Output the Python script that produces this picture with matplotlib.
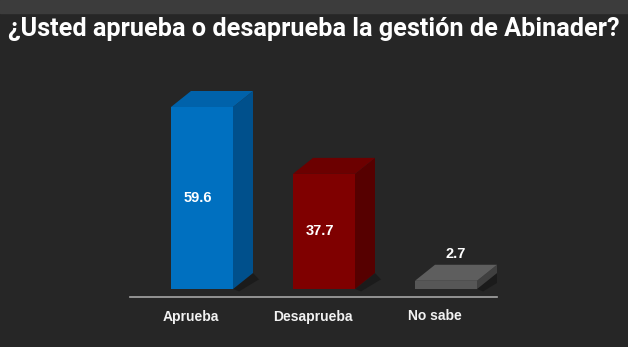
import numpy as np
import matplotlib.pyplot as plt
from matplotlib.patches import Polygon, Rectangle

cats = ["Aprueba", "Desaprueba", "No sabe"]
vals = [59.6, 37.7, 2.7]
front = ["#0070c0", "#7f0000", "#575757"]
top = ["#0062aa", "#6c0000", "#5e5e5e"]
side = ["#00508c", "#560000", "#404040"]

W, H = 628, 347
fig = plt.figure(figsize=(W / 100, H / 100), dpi=100)
fig.patch.set_facecolor("#262626")
# lighter strip on top
fig.add_artist(Rectangle((0, 1 - 13 / H), 1, 13 / H, transform=fig.transFigure,
                         color="#3c3c3c", zorder=0))

fig.text(0.5, 1 - 29 / H, "¿Usted aprueba o desaprueba la gestión de Abinader?",
         ha="center", va="center", color="white", fontsize=18.2, fontweight="bold",
         family="Roboto")

# axes placed in pixels: x 130..497, y 60..297
l, r, t, b = 130, 497, 60, 297
ax = fig.add_axes([l / W, 1 - b / H, (r - l) / W, (b - t) / H])
ax.set_facecolor("none")
px_x = 122.0           # pixels per category
px_y = 182 / 59.6      # pixels per unit
ax.set_xlim((l - 202) / px_x, (r - 202) / px_x)
ax.set_ylim(-(b - 289) / px_y, (289 - t) / px_y)

bw = 62 / px_x
dx = 20 / px_x
dy = 16 / px_y
x = np.arange(len(cats))
for i, v in enumerate(vals):
    x0, x1 = x[i] - bw / 2, x[i] + bw / 2
    # soft shadow
    ax.add_patch(Polygon([(x1, 0), (x1 + dx, dy), (x1 + dx + 0.05, dy * 0.6), (x1 + 0.05, -0.8)],
                         closed=True, color="#151515", alpha=0.6, lw=0, zorder=1))
    ax.add_patch(Polygon([(x1, 0), (x1 + dx, dy), (x1 + dx, v + dy), (x1, v)],
                         closed=True, color=side[i], lw=0, zorder=2))
    ax.add_patch(Polygon([(x0, v), (x0 + dx, v + dy), (x1 + dx, v + dy), (x1, v)],
                         closed=True, color=top[i], lw=0, zorder=2))
    ax.bar(x[i], v, width=bw, color=front[i], zorder=3)
    if v > 10:
        ax.text(x[i] - 0.03, v / 2, f"{v}", ha="center", va="center", color="white",
                fontsize=10.5, fontweight="bold", family="Liberation Sans", zorder=4)
    else:
        ax.text(x[i] + dx / 2, v + dy + 3.5, f"{v}", ha="center", va="center", color="white",
                fontsize=10.5, fontweight="bold", family="Liberation Sans", zorder=4)

for s in ["top", "right", "left"]:
    ax.spines[s].set_visible(False)
ax.spines["bottom"].set_color("#a6a6a6")
ax.spines["bottom"].set_linewidth(1.2)
ax.set_yticks([])
ax.set_xticks(x - 0.09, cats)
ax.tick_params(axis="x", length=0, pad=9, colors="white", labelsize=10)
for lab in ax.get_xticklabels():
    lab.set_fontweight("bold")
    lab.set_family("Liberation Sans")
    lab.set_color("#f2f2f2")

fig.savefig("out.png", dpi=100, facecolor=fig.get_facecolor())
